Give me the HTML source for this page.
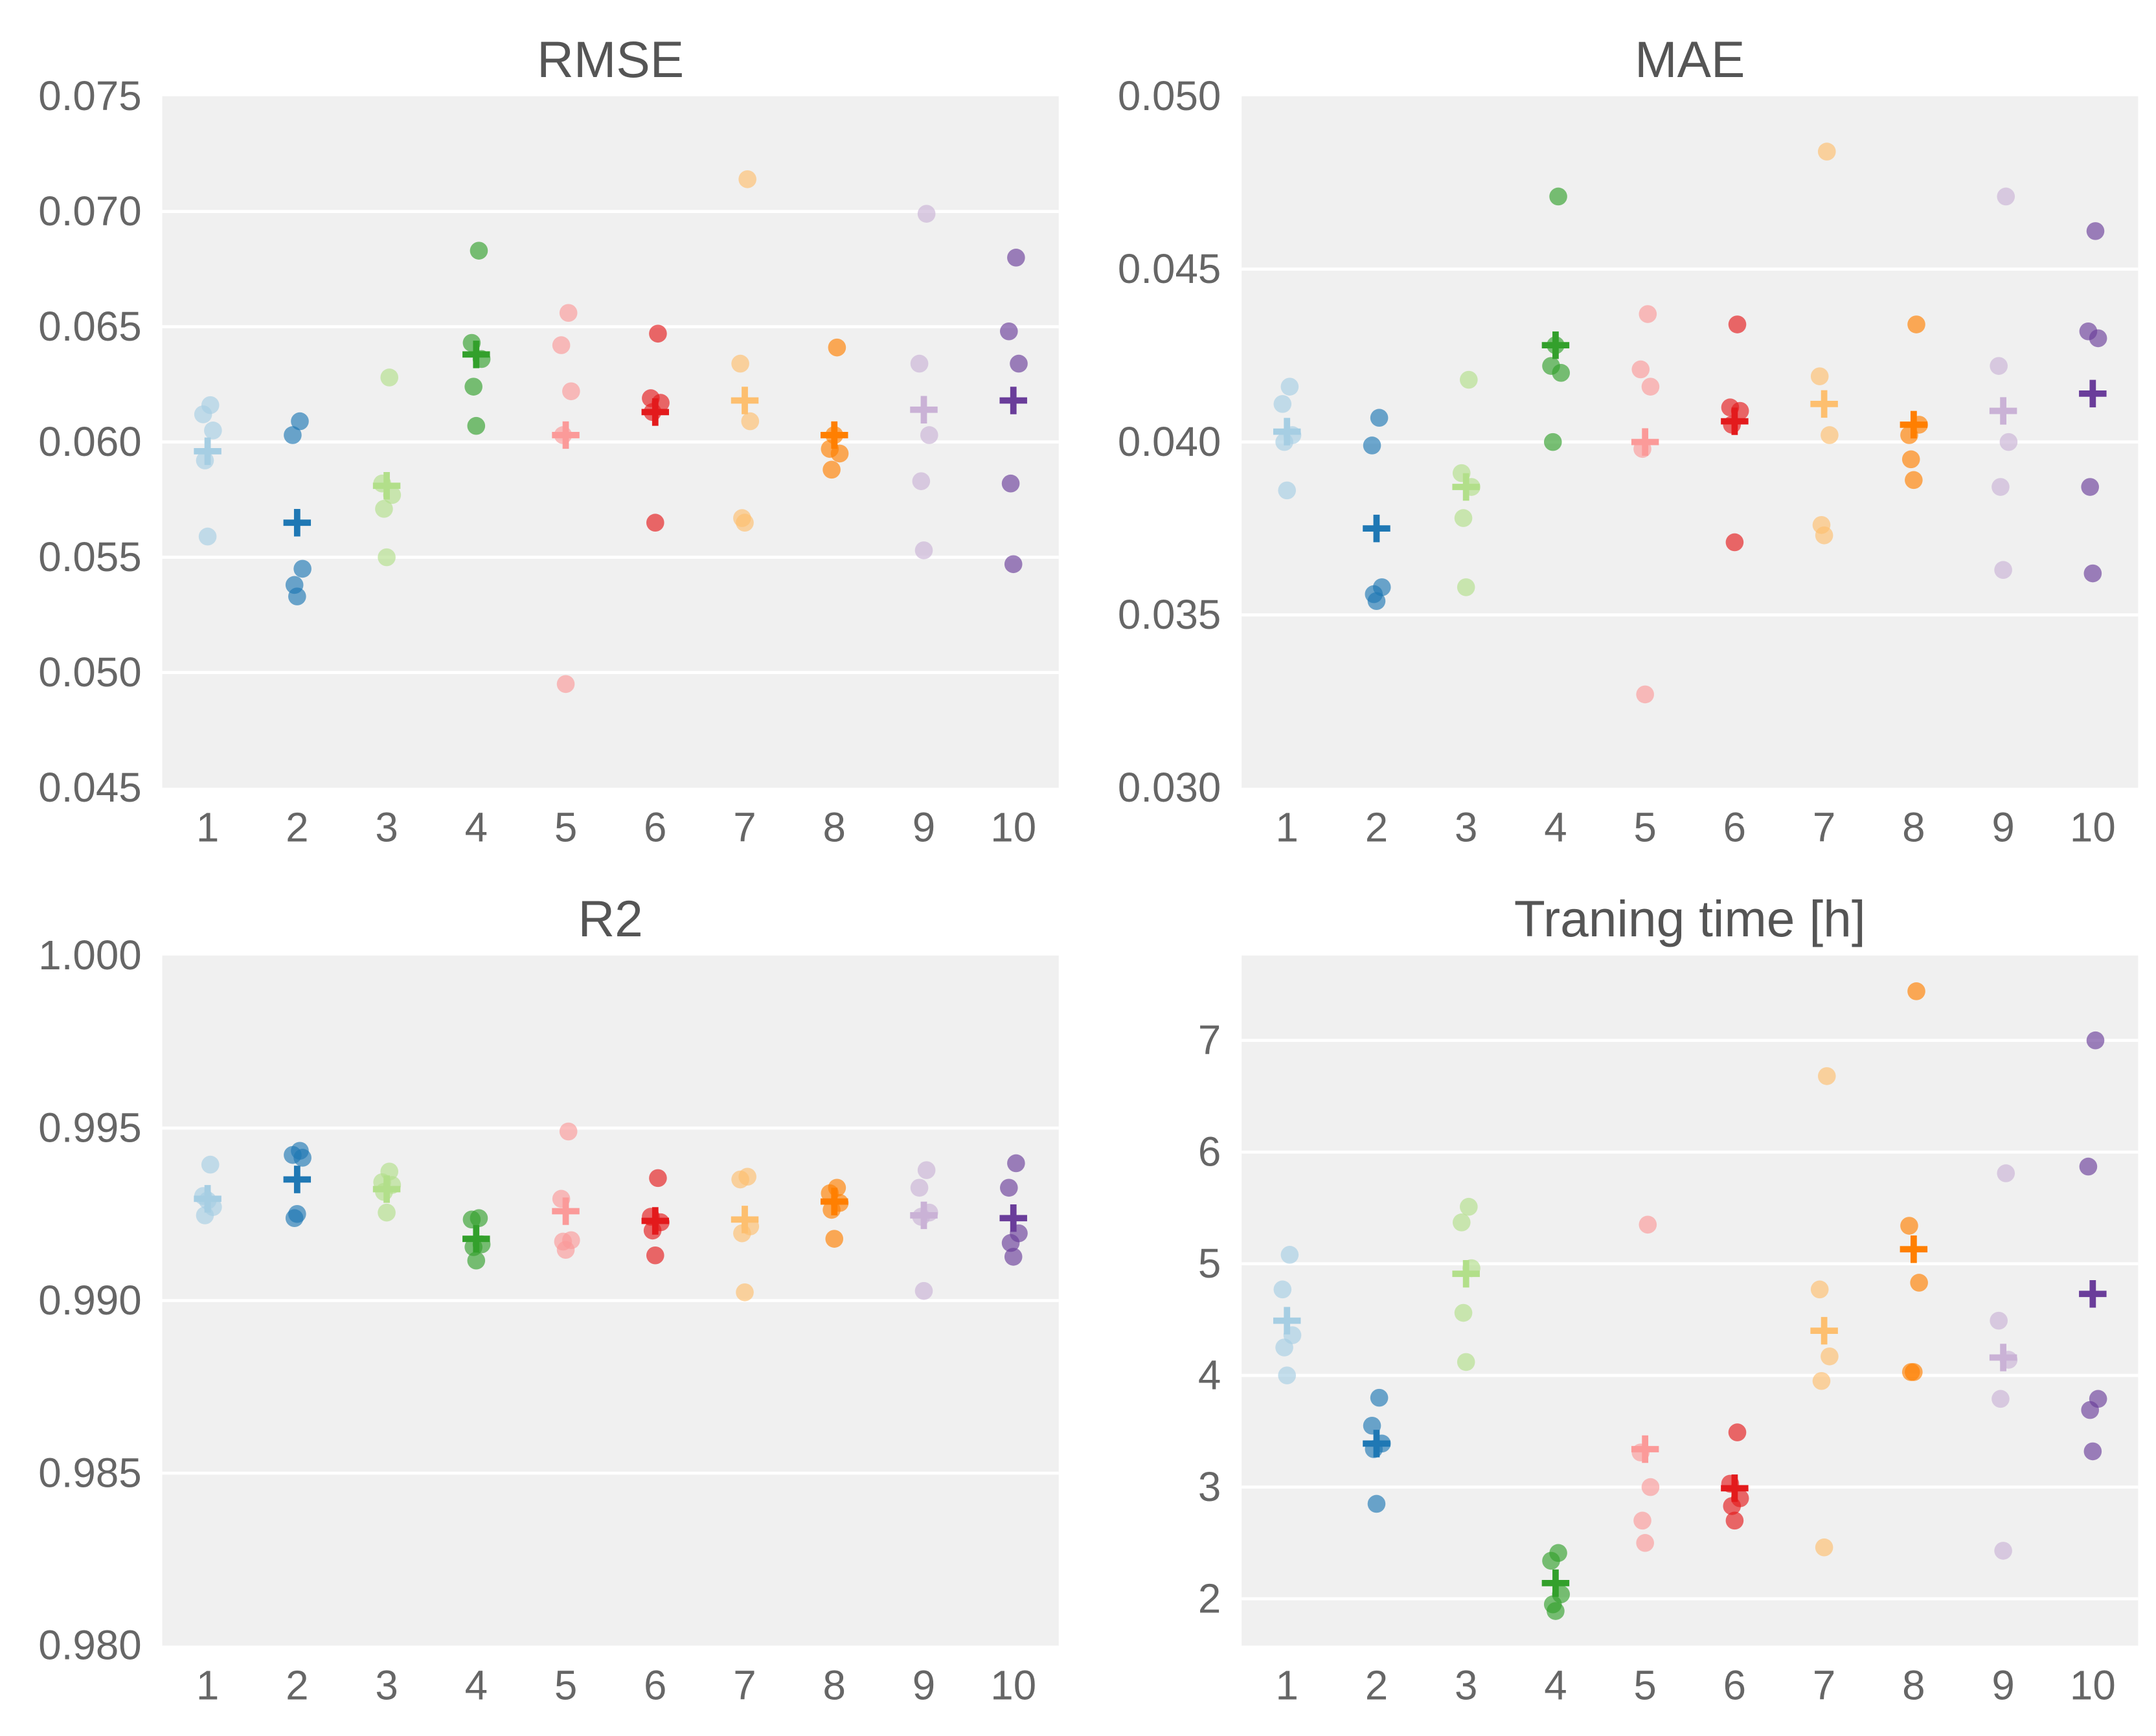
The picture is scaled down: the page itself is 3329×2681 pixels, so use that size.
<!DOCTYPE html>
<html><head><meta charset="utf-8">
<style>
html,body{margin:0;padding:0;background:#fff;}
svg{display:block;font-family:"Liberation Sans",sans-serif;}
</style></head>
<body>
<svg id="chart" width="3329" height="2681" viewBox="0 0 1568 1262.7" preserveAspectRatio="none" xmlns="http://www.w3.org/2000/svg"></svg>
<script>
const categories = ['1','2','3','4','5','6','7','8','9','10'];
const colors = ['#a6cee3','#1f78b4','#b2df8a','#33a02c','#fb9a99','#e31a1c','#fdbf6f','#ff7f00','#cab2d6','#6a3d9a'];
const jitter = [0.03,-0.05,0.06,-0.03,0.0];

const rmsePoints = [
 [0.0616,0.0612,0.0605,0.0592,0.0559],
 [0.0609,0.0603,0.0545,0.0538,0.0533],
 [0.0628,0.0582,0.0577,0.0571,0.0550],
 [0.0683,0.0643,0.0636,0.0624,0.0607],
 [0.0656,0.0642,0.0622,0.0603,0.0495],
 [0.0647,0.0619,0.0617,0.0613,0.0565],
 [0.0714,0.0634,0.0609,0.0567,0.0565],
 [0.0641,0.0597,0.0595,0.0588,0.0603],
 [0.0699,0.0634,0.0603,0.0583,0.0553],
 [0.0680,0.0648,0.0634,0.0582,0.0547]];
const rmseMeans = [0.0596,0.0565,0.0581,0.0638,0.0603,0.0613,0.0618,0.0603,0.0614,0.0618];
const rmseTicks = ['0.045','0.050','0.055','0.060','0.065','0.070','0.075'];

const maePoints = [
 [0.0416,0.0411,0.0402,0.0400,0.0386],
 [0.0407,0.0399,0.0358,0.0356,0.0354],
 [0.0418,0.0391,0.0387,0.0378,0.0358],
 [0.0471,0.0422,0.0420,0.0400,0.0428],
 [0.0437,0.0421,0.0416,0.0398,0.0327],
 [0.0434,0.0410,0.0409,0.0405,0.0371],
 [0.0484,0.0419,0.0402,0.0376,0.0373],
 [0.0434,0.0402,0.0405,0.0395,0.0389],
 [0.0471,0.0422,0.0400,0.0387,0.0363],
 [0.0461,0.0432,0.0430,0.0387,0.0362]];
const maeMeans = [0.0403,0.0375,0.0387,0.0428,0.0400,0.0406,0.0411,0.0405,0.0409,0.0414];
const maeTicks = ['0.030','0.035','0.040','0.045','0.050'];

const r2Points = [
 [0.99394,0.99303,0.99271,0.99247,0.9929],
 [0.99434,0.99422,0.99414,0.99239,0.99251],
 [0.99374,0.99343,0.99335,0.99315,0.99255],
 [0.99239,0.99235,0.99163,0.99155,0.99116],
 [0.9949,0.99295,0.99175,0.99171,0.99147],
 [0.99355,0.99243,0.99227,0.99203,0.99131],
 [0.99359,0.99351,0.99215,0.99195,0.99024],
 [0.99327,0.99311,0.99283,0.99263,0.99179],
 [0.99378,0.99327,0.99255,0.99243,0.99028],
 [0.99398,0.99327,0.99195,0.99167,0.99127]];
const r2Means = [0.99295,0.99351,0.99323,0.99179,0.99259,0.99231,0.99235,0.99287,0.99247,0.99239];
const r2Ticks = ['0.980','0.985','0.990','0.995','1.000'];

const timePoints = [
 [5.08,4.77,4.36,4.25,4.00],
 [3.80,3.55,3.39,3.34,2.85],
 [5.51,5.37,4.96,4.56,4.12],
 [2.41,2.34,2.04,1.95,1.89],
 [5.35,3.31,3.00,2.70,2.50],
 [3.49,3.03,2.90,2.83,2.70],
 [6.68,4.77,4.17,3.95,2.46],
 [7.44,5.34,4.83,4.03,4.03],
 [5.81,4.49,4.14,3.79,2.43],
 [7.00,5.87,3.79,3.69,3.32]];
const timeMeans = [4.49,3.39,4.91,2.14,3.34,2.99,4.40,5.13,4.16,4.73];
const timeTicks = ['2','3','4','5','6','7'];

const NS='http://www.w3.org/2000/svg';
const svg=document.getElementById('chart');
function mk(tag,attrs,parent){const e=document.createElementNS(NS,tag);for(const k in attrs)e.setAttribute(k,attrs[k]);(parent||svg).appendChild(e);return e;}

function panel(key,title,x0,y0,x1,y1,ymin,ymax,ticks,points,means){
  const g=mk('g',{});
  
  
  const yS=v=>y1-(v-ymin)/(ymax-ymin)*(y1-y0);
  const cx0=x0+33, step=(x1-x0-66)/9;
  const xS=i=>cx0+i*step;
  const bg=mk('rect',{x:x0,y:y0,width:x1-x0,height:y1-y0,fill:'#f0f0f0'},g);
  
  
  ticks.forEach(t=>{
    const v=parseFloat(t), y=yS(v);
    if(y>y0+1&&y<y1-1){const l=mk('line',{x1:x0,x2:x1,y1:y,y2:y,stroke:'#fff','stroke-width':2.2},g);
      
      }
    const tx=mk('text',{x:x0-15,y:y+10,'text-anchor':'end','font-size':30,fill:'#666'},g);
    tx.textContent=t;
    
    
  });
  categories.forEach((c,i)=>{
    const tx=mk('text',{x:xS(i),y:y1+39,'text-anchor':'middle','font-size':30,fill:'#666'},g);
    tx.textContent=c;
    
    
  });
  const tt=mk('text',{x:(x0+x1)/2,y:y0-14,'text-anchor':'middle','font-size':37,fill:'#555'},g);
  tt.textContent=title;
  
  
  points.forEach((arr,i)=>{
    arr.forEach((v,j)=>{
      const p=mk('circle',{cx:xS(i+jitter[j%jitter.length]),cy:yS(v),r:6.5,fill:colors[i],'fill-opacity':0.65},g);
      
      
    });
  });
  means.forEach((v,i)=>{
    const x=xS(i), y=yS(v);
    const m=mk('path',{d:`M${x-10},${y}H${x+10}M${x},${y-10}V${y+10}`,stroke:colors[i],'stroke-width':4.6,fill:'none'},g);
    
    
  });
}
panel('rmse','RMSE',118,70,770,573,0.045,0.075,rmseTicks,rmsePoints,rmseMeans);
panel('mae','MAE',903,70,1555,573,0.030,0.050,maeTicks,maePoints,maeMeans);
panel('r2','R2',118,695,770,1197,0.980,1.000,r2Ticks,r2Points,r2Means);
panel('training-time','Traning time [h]',903,695,1555,1197,1.58,7.76,timeTicks,timePoints,timeMeans);
</script>
</body></html>
